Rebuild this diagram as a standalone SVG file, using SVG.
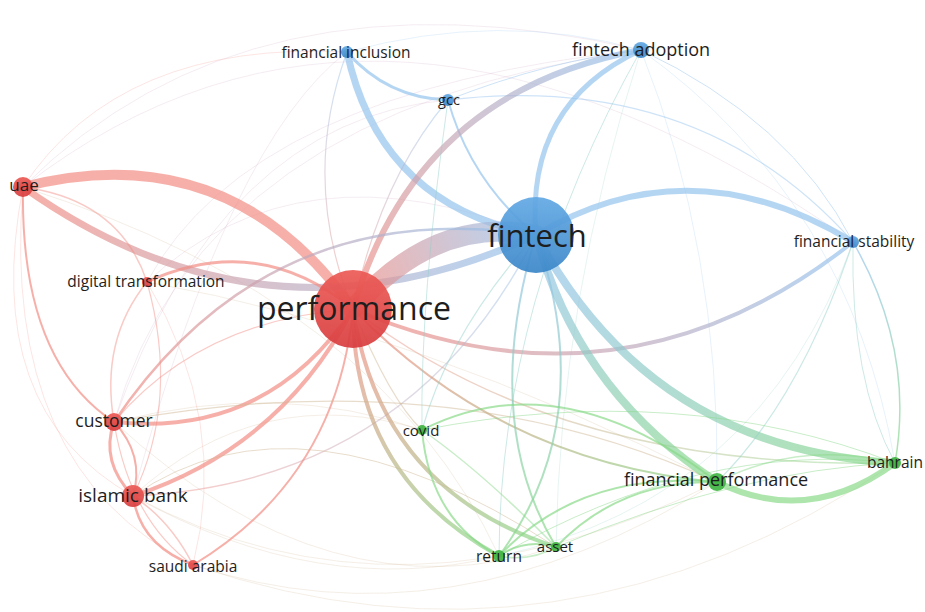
<svg xmlns="http://www.w3.org/2000/svg" width="925" height="612" viewBox="0 0 925 612">
  <style>
    .e { fill: none; stroke-linecap: round; }
    .r { stroke: #f28a80; }
    .b { stroke: #92c2ee; }
    .g { stroke: #86d886; }
    .rb { stroke: #cfa8c4; }
    .bg { stroke: #8fcfc6; }
    .rg { stroke: #cdb38f; }
    .o1 { stroke-opacity: 0.68; }
    .o2 { stroke-opacity: 0.45; }
    .o3 { stroke-opacity: 0.22; }
    .nr { fill: url(#fillRed); fill-opacity: 0.92; }
    .nb { fill: url(#fillBlue); fill-opacity: 0.92; }
    .ng { fill: #3cb23e; fill-opacity: 0.9; }
    text { font-family: "Open Sans", "Noto Sans", "DejaVu Sans", sans-serif; fill: #1e1e1e; text-anchor: middle; }
  </style>
  <defs>
    <linearGradient id="fillBlue" x1="0" y1="0" x2="0" y2="1">
      <stop offset="0" stop-color="#62a8e4"/>
      <stop offset="1" stop-color="#3a86c8"/>
    </linearGradient>
    <linearGradient id="fillRed" x1="0" y1="0" x2="0" y2="1">
      <stop offset="0" stop-color="#ec5a55"/>
      <stop offset="1" stop-color="#d83c3e"/>
    </linearGradient>
    <!-- edge colour ramps between clusters -->
    <linearGradient id="tRB"><stop offset="0" stop-color="#f28a80"/><stop offset="1" stop-color="#92c2ee"/></linearGradient>
    <linearGradient id="tBG"><stop offset="0" stop-color="#92c2ee"/><stop offset="1" stop-color="#86d886"/></linearGradient>
    <linearGradient id="tRG"><stop offset="0" stop-color="#f28a80"/><stop offset="1" stop-color="#86d886"/></linearGradient>
    <linearGradient id="gUF" href="#tRB" gradientUnits="userSpaceOnUse" x1="23" y1="187" x2="536" y2="235"/>
    <linearGradient id="gPF" href="#tRB" gradientUnits="userSpaceOnUse" x1="353" y1="309" x2="536" y2="235"/>
    <linearGradient id="gPFA" href="#tRB" gradientUnits="userSpaceOnUse" x1="353" y1="309" x2="641" y2="50"/>
    <linearGradient id="gPFS" href="#tRB" gradientUnits="userSpaceOnUse" x1="353" y1="309" x2="853" y2="242"/>
    <linearGradient id="gCF" href="#tRB" gradientUnits="userSpaceOnUse" x1="114" y1="422" x2="536" y2="235"/>
    <linearGradient id="gIBF" href="#tRB" gradientUnits="userSpaceOnUse" x1="133" y1="496" x2="536" y2="235"/>
    <linearGradient id="gPFI" href="#tRB" gradientUnits="userSpaceOnUse" x1="353" y1="309" x2="347" y2="52"/>
    <linearGradient id="gPG" href="#tRB" gradientUnits="userSpaceOnUse" x1="353" y1="309" x2="448" y2="100"/>
    <linearGradient id="gFFP" href="#tBG" gradientUnits="userSpaceOnUse" x1="536" y1="235" x2="717" y2="482"/>
    <linearGradient id="gFB" href="#tBG" gradientUnits="userSpaceOnUse" x1="536" y1="235" x2="895" y2="463"/>
    <linearGradient id="gFR" href="#tBG" gradientUnits="userSpaceOnUse" x1="536" y1="235" x2="499" y2="556"/>
    <linearGradient id="gFA" href="#tBG" gradientUnits="userSpaceOnUse" x1="536" y1="235" x2="556" y2="547"/>
    <linearGradient id="gFSB" href="#tBG" gradientUnits="userSpaceOnUse" x1="853" y1="242" x2="895" y2="463"/>
    <linearGradient id="gPR" href="#tRG" gradientUnits="userSpaceOnUse" x1="353" y1="309" x2="499" y2="556"/>
    <linearGradient id="gPA" href="#tRG" gradientUnits="userSpaceOnUse" x1="353" y1="309" x2="556" y2="547"/>
    <linearGradient id="gPFP" href="#tRG" gradientUnits="userSpaceOnUse" x1="353" y1="309" x2="717" y2="482"/>
    <linearGradient id="gPB" href="#tRG" gradientUnits="userSpaceOnUse" x1="353" y1="309" x2="895" y2="463"/>
  </defs>
  <rect width="925" height="612" fill="#ffffff"/>

  <g id="connectors">
    <!-- faint outer arcs -->
    <path class="e rb o3" stroke-width="1" d="M23,187 Q250,-40 641,50"/>
    <path class="e rb o3" stroke-width="1" d="M23,187 Q380,-90 853,242"/>
    <path class="e r o3" stroke-width="1" d="M23,187 Q120,40 347,52"/>
    <path class="e rb o3" stroke-width="1" d="M147,282 Q250,90 641,50"/>
    <path class="e rb o3" stroke-width="1" d="M147,282 Q300,140 536,235"/>
    <path class="e rb o3" stroke-width="1" d="M114,422 Q200,110 641,50"/>
    <path class="e rb o3" stroke-width="1" d="M114,422 Q220,120 448,100"/>
    <path class="e rb o3" stroke-width="1" d="M133,496 Q230,140 347,52"/>
    <path class="e rg o3" stroke-width="1" d="M193,565 Q450,650 717,482"/>
    <path class="e rg o3" stroke-width="1" d="M193,565 Q560,690 895,463"/>
    <path class="e rg o3" stroke-width="1" d="M133,496 Q400,640 717,482"/>
    <path class="e rg o3" stroke-width="1" d="M114,422 Q330,620 556,547"/>
    <path class="e rg o3" stroke-width="1" d="M133,496 Q320,600 499,556"/>
    <path class="e rg o3" stroke-width="1" d="M114,422 Q280,380 422,430"/>
    <path class="e rg o3" stroke-width="1" d="M133,496 Q260,380 422,430"/>
    <path class="e rg o3" stroke-width="1" d="M147,282 Q420,330 717,482"/>
    <path class="e rg o3" stroke-width="1" d="M23,187 Q380,300 499,556"/>
    <path class="e b o3" stroke-width="1" d="M641,50 Q850,200 895,463"/>
    <path class="e b o3" stroke-width="1" d="M641,50 Q720,250 717,482"/>
    <path class="e b o3" stroke-width="1" d="M347,52 Q500,10 641,50"/>
    <path class="e bg o3" stroke-width="1" d="M853,242 Q760,500 499,556"/>
    <path class="e bg o3" stroke-width="1" d="M641,50 Q560,300 556,547"/>

    <!-- blue cluster -->
    <path class="e b o2" stroke-width="1" d="M641,50 Q790,120 853,242"/>
    <path class="e b o2" stroke-width="1.2" d="M448,100 Q700,70 853,242"/>
    <path class="e b o2" stroke-width="1" d="M448,100 Q550,60 641,50"/>
    <path class="e b o1" stroke-width="2" d="M448,100 Q470,180 536,235"/>
    <path class="e b o1" stroke-width="3" d="M347,52 Q387,98 448,100"/>
    <path class="e b o1" stroke-width="7" d="M347,52 Q380,205 536,235"/>
    <path class="e b o1" stroke-width="5" d="M536,235 Q525,104 641,50"/>
    <path class="e b o1" stroke-width="6" d="M536,235 Q690,143 853,242"/>
    <path class="e o2" stroke="url(#gPFI)" stroke-width="1.2" d="M347,52 Q300,180 353,309"/>
    <path class="e o2" stroke="url(#gPG)" stroke-width="1.2" d="M448,100 Q380,180 353,309"/>

    <!-- red cluster -->
    <path class="e r o1" stroke-width="10" d="M23,187 Q229,134 353,309"/>
    <path class="e o1" stroke="url(#gUF)" stroke-width="7" d="M23,187 Q266,360 536,235"/>
    <path class="e o1" stroke="url(#gPF)" stroke-width="20" d="M353,309 Q435,215 536,235"/>
    <path class="e o1" stroke="url(#gPFA)" stroke-width="6" d="M353,309 Q416,91 641,50"/>
    <path class="e o1" stroke="url(#gPFS)" stroke-width="4" d="M353,309 Q623,424 853,242"/>
    <path class="e r o1" stroke-width="4" d="M114,422 Q267,438 353,309"/>
    <path class="e r o1" stroke-width="4" d="M133,496 Q280,448 353,309"/>
    <path class="e r o1" stroke-width="2" d="M193,565 Q337,478 353,309"/>
    <path class="e r o1" stroke-width="3" d="M147,282 Q258,231 353,309"/>
    <path class="e o1" stroke="url(#gCF)" stroke-width="2.5" d="M114,422 Q268,194 536,235"/>
    <path class="e o2" stroke="url(#gIBF)" stroke-width="1.5" d="M133,496 Q411,483 536,235"/>
    <path class="e r o1" stroke-width="2" d="M23,187 Q20,360 114,422"/>
    <path class="e r o2" stroke-width="1.5" d="M23,187 Q120,200 147,282"/>
    <path class="e r o3" stroke-width="1" d="M23,187 Q-20,410 133,496"/>
    <path class="e r o3" stroke-width="1" d="M23,187 Q0,470 193,565"/>
    <path class="e r o2" stroke-width="1.5" d="M147,282 Q100,340 114,422"/>
    <path class="e r o2" stroke-width="1.2" d="M147,282 Q180,400 133,496"/>
    <path class="e r o3" stroke-width="1" d="M147,282 Q230,420 193,565"/>
    <path class="e r o1" stroke-width="3" d="M114,422 Q100,462 133,496"/>
    <path class="e r o1" stroke-width="2" d="M114,422 Q145,455 133,496"/>
    <path class="e r o1" stroke-width="2.5" d="M133,496 Q140,545 193,565"/>
    <path class="e r o2" stroke-width="1.5" d="M133,496 Q170,520 193,565"/>
    <path class="e r o2" stroke-width="1.2" d="M114,422 Q130,520 193,565"/>
    <path class="e r o2" stroke-width="1.2" d="M353,309 Q200,320 114,422"/>

    <!-- red to green -->
    <path class="e o1" stroke="url(#gPR)" stroke-width="4" d="M353,309 Q353,476 499,556"/>
    <path class="e o1" stroke="url(#gPA)" stroke-width="4" d="M353,309 Q380,490 556,547"/>
    <path class="e o1" stroke="url(#gPFP)" stroke-width="2" d="M353,309 Q502,463 717,482"/>
    <path class="e o2" stroke="url(#gPB)" stroke-width="1.5" d="M353,309 Q560,470 895,463"/>
    <path class="e rg o2" stroke-width="1.2" d="M353,309 Q390,400 422,430"/>
    <path class="e rg o2" stroke-width="1.2" d="M114,422 Q450,360 717,482"/>
    <path class="e rg o2" stroke-width="1" d="M133,496 Q300,380 556,547"/>

    <!-- blue to green -->
    <path class="e o1" stroke="url(#gFFP)" stroke-width="8" d="M536,235 Q578,392 717,482"/>
    <path class="e o1" stroke="url(#gFB)" stroke-width="8" d="M536,235 Q651,449 895,463"/>
    <path class="e o1" stroke="url(#gFR)" stroke-width="2" d="M536,235 Q600,420 499,556"/>
    <path class="e o1" stroke="url(#gFA)" stroke-width="2" d="M536,235 Q480,420 556,547"/>
    <path class="e bg o2" stroke-width="1.2" d="M536,235 Q450,330 422,430"/>
    <path class="e bg o2" stroke-width="1.2" d="M853,242 Q800,400 717,482"/>
    <path class="e o1" stroke="url(#gFSB)" stroke-width="1.5" d="M853,242 Q915,350 895,463"/>
    <path class="e bg o2" stroke-width="1" d="M853,242 Q850,380 895,463"/>
    <path class="e bg o2" stroke-width="1" d="M448,100 Q420,300 422,430"/>
    <path class="e bg o2" stroke-width="1" d="M641,50 Q500,300 499,556"/>

    <!-- green cluster -->
    <path class="e g o1" stroke-width="6" d="M717,482 Q808,527 895,463"/>
    <path class="e g o2" stroke-width="1.5" d="M717,482 Q800,440 895,463"/>
    <path class="e g o1" stroke-width="2" d="M422,430 Q430,520 499,556"/>
    <path class="e g o2" stroke-width="1.5" d="M422,430 Q480,470 556,547"/>
    <path class="e g o1" stroke-width="2" d="M422,430 Q560,360 717,482"/>
    <path class="e g o1" stroke-width="2" d="M499,556 Q525,538 556,547"/>
    <path class="e g o2" stroke-width="1.5" d="M499,556 Q530,562 556,547"/>
    <path class="e g o1" stroke-width="2" d="M499,556 Q580,470 717,482"/>
    <path class="e g o1" stroke-width="2" d="M556,547 Q620,480 717,482"/>
    <path class="e g o2" stroke-width="1" d="M499,556 Q700,440 895,463"/>
    <path class="e g o2" stroke-width="1" d="M556,547 Q740,470 895,463"/>
    <path class="e g o2" stroke-width="1" d="M422,430 Q680,380 895,463"/>
  </g>

  <g id="node-financial-inclusion"><circle class="nb" cx="347" cy="52" r="6"/><text x="346" y="57.5" font-size="15.5">financial inclusion</text></g>
  <g id="node-gcc"><circle class="nb" cx="448" cy="100" r="6"/><text x="449" y="105" font-size="14.5">gcc</text></g>
  <g id="node-fintech-adoption"><circle class="nb" cx="641" cy="50" r="8"/><text x="641" y="56" font-size="18">fintech adoption</text></g>
  <g id="node-financial-stability"><circle class="nb" cx="853" cy="242" r="6"/><text x="854" y="247" font-size="15.5">financial stability</text></g>
  <g id="node-fintech"><circle class="nb" cx="536" cy="235" r="38"/><text x="537" y="247" font-size="31">fintech</text></g>
  <g id="node-uae"><circle class="nr" cx="23" cy="187" r="10"/><text x="24" y="191" font-size="17">uae</text></g>
  <g id="node-digital-transformation"><circle class="nr" cx="147" cy="282" r="5"/><text x="146" y="286.5" font-size="15.5">digital transformation</text></g>
  <g id="node-performance"><circle class="nr" cx="353" cy="309" r="39"/><text x="354" y="320" font-size="32">performance</text></g>
  <g id="node-customer"><circle class="nr" cx="114" cy="422" r="9"/><text x="114" y="426.5" font-size="17.5">customer</text></g>
  <g id="node-islamic-bank"><circle class="nr" cx="133" cy="496" r="11"/><text x="133" y="502" font-size="19">islamic bank</text></g>
  <g id="node-saudi-arabia"><circle class="nr" cx="193" cy="565" r="5"/><text x="193" y="571.5" font-size="15.5">saudi arabia</text></g>
  <g id="node-covid"><circle class="ng" cx="422" cy="430" r="5"/><text x="421" y="435.5" font-size="15">covid</text></g>
  <g id="node-financial-performance"><circle class="ng" cx="717" cy="482" r="9"/><text x="716" y="485.5" font-size="18">financial performance</text></g>
  <g id="node-bahrain"><circle class="ng" cx="895" cy="463" r="6"/><text x="895" y="468" font-size="15.5">bahrain</text></g>
  <g id="node-return"><circle class="ng" cx="499" cy="556" r="6"/><text x="499" y="561.5" font-size="15.5">return</text></g>
  <g id="node-asset"><circle class="ng" cx="556" cy="547" r="5"/><text x="555" y="551.5" font-size="15">asset</text></g>
</svg>
